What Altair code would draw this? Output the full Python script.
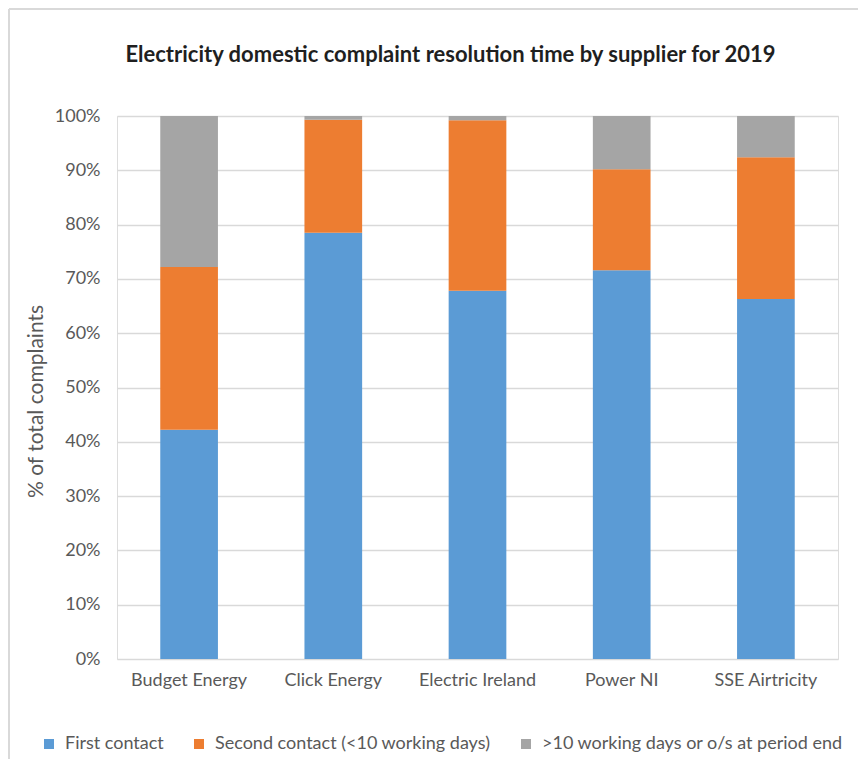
import altair as alt
import pandas as pd

suppliers = ["Budget Energy", "Click Energy", "Electric Ireland", "Power NI", "SSE Airtricity"]
series = ["First contact", "Second contact (<10 working days)", ">10 working days or o/s at period end"]
first_contact = [42.2, 78.5, 67.8, 71.6, 66.3]
second_contact = [30.0, 20.8, 31.4, 18.6, 26.1]
over_ten_days = [27.8, 0.7, 0.8, 9.8, 7.6]
colors = ["#5B9BD5", "#ED7D31", "#A5A5A5"]
y_ticks = [0, 10, 20, 30, 40, 50, 60, 70, 80, 90, 100]

rows = []
for i, s in enumerate(suppliers):
    for k, vals in enumerate([first_contact, second_contact, over_ten_days]):
        rows.append({"supplier": s, "series": series[k], "order": k, "value": vals[i]})
df = pd.DataFrame(rows)

FONT = "Lato"
TXT = "#595959"

bars = alt.Chart(df).mark_bar().encode(
    x=alt.X("supplier:N", sort=suppliers, title=None,
            scale=alt.Scale(paddingInner=0.6, paddingOuter=0.3),
            axis=alt.Axis(labelAngle=0, labelFont=FONT, labelFontSize=18, labelColor=TXT,
                          labelPadding=12, ticks=False, domain=False)),
    y=alt.Y("value:Q", stack="zero", title="% of total complaints",
            scale=alt.Scale(domain=[0, 100], nice=False),
            axis=alt.Axis(values=y_ticks, labelExpr="datum.value + '%'",
                          labelFont=FONT, labelFontSize=18, labelColor=TXT, labelPadding=17,
                          titleFont=FONT, titleFontSize=21, titleColor=TXT,
                          titleFontWeight="normal", titlePadding=8, titleY=285,
                          ticks=False, domain=False, gridColor="#D9D9D9", gridWidth=1.3)),
    color=alt.Color("series:N", sort=series,
                    scale=alt.Scale(domain=series, range=colors),
                    legend=alt.Legend(title=None, orient="none", direction="horizontal",
                                      legendX=-77, legendY=619,
                                      symbolType="square", symbolSize=100, symbolStrokeWidth=0,
                                      labelFont=FONT, labelFontSize=18, labelColor=TXT,
                                      columnPadding=26, labelOffset=7, labelLimit=400)),
    order=alt.Order("order:Q", sort="ascending"),
)

frame_left = alt.Chart().mark_rule(color="#D9D9D9", strokeWidth=2).encode(
    x=alt.value(-108), y=alt.value(-107), y2=alt.value(680))
frame_top = alt.Chart().mark_rule(color="#D9D9D9", strokeWidth=2).encode(
    x=alt.value(-108), x2=alt.value(760), y=alt.value(-107))

chart = alt.layer(bars, frame_left, frame_top).properties(
    width=721,
    height=543,
    title=alt.TitleParams("Electricity domestic complaint resolution time by supplier for 2019",
                          font=FONT, fontSize=22, fontWeight="bold", color="#1F1F1F",
                          anchor="middle", offset=0, dx=-27, dy=59),
    autosize=alt.AutoSizeParams(type="none"),
    padding={"left": 109, "top": 108, "right": 20, "bottom": 100},
).configure_view(stroke=None).configure(background="white")

chart.save("out.html", embed_options={"renderer": "svg", "actions": False})
